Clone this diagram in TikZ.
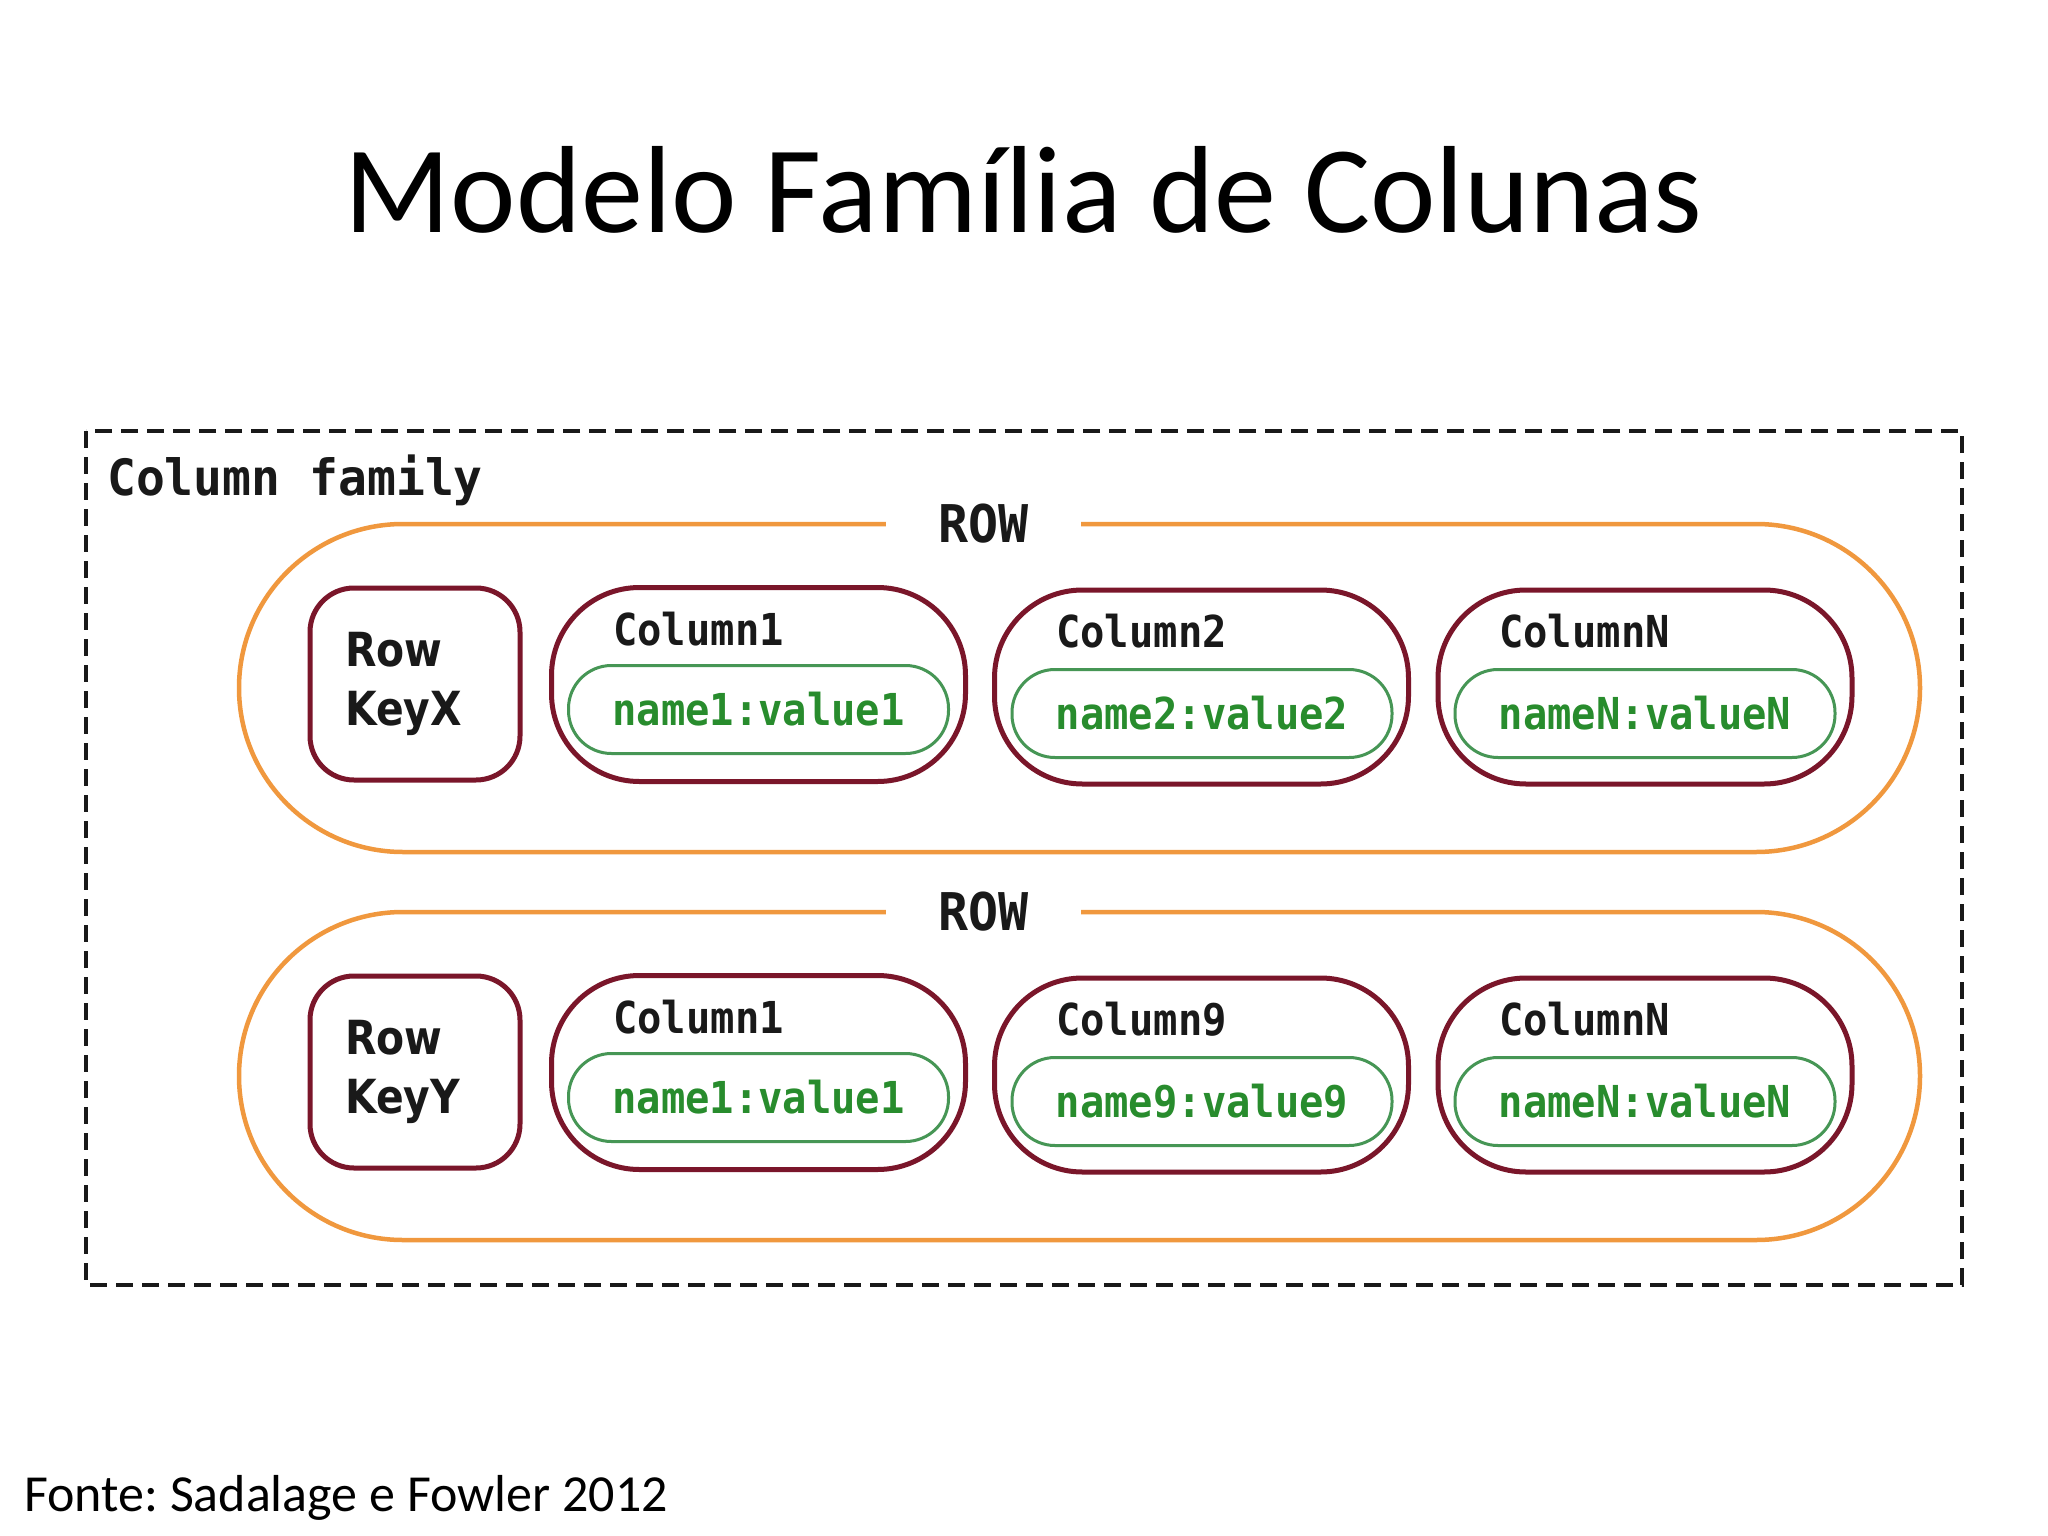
\documentclass[tikz,border=0pt]{standalone}
\usepackage{fontspec}
\setmainfont{Carlito}
\frenchspacing
\newfontfamily\cfmono[FakeStretch=0.96]{DejaVu Sans Mono}
\newfontfamily\colmono[FakeStretch=0.92]{DejaVu Sans Mono}
\newfontfamily\keysans[FakeStretch=0.87]{DejaVu Sans}
\definecolor{orangeR}{RGB}{240,152,62}
\definecolor{maroonR}{RGB}{122,22,42}
\definecolor{greenB}{RGB}{70,150,85}
\definecolor{greenT}{RGB}{40,140,45}
\definecolor{inkR}{RGB}{25,25,25}
\tikzset{
  ring/.style={draw=orangeR, line width=4.5, rounded corners=164, minimum width=1681, minimum height=328, inner sep=0},
  rowlbl/.style={fill=white, inner xsep=52, inner ysep=4, text=inkR, font=\cfmono\bfseries\fontsize{52}{60}\selectfont},
  keybox/.style={draw=maroonR, line width=5, rounded corners=44, minimum width=210, minimum height=192},
  keylbl/.style={anchor=west, inner sep=0, align=left, text=inkR, font=\keysans\bfseries\fontsize{47}{59}\selectfont},
  colbox/.style={draw=maroonR, line width=5, rounded corners=88, minimum width=414, minimum height=194},
  collbl/.style={anchor=west, inner sep=0, text=inkR, font=\colmono\bfseries\fontsize{44}{50}\selectfont},
  kv/.style={draw=greenB, line width=3, rounded corners=43, minimum width=380, minimum height=88, text=greenT, font=\colmono\bfseries\fontsize{44}{50}\selectfont},
  fam/.style={draw=inkR, line width=4, dash pattern=on 17 off 9},
}
\begin{document}
\begin{tikzpicture}[x=1pt,y=-1pt]
\useasboundingbox (0,0) rectangle (2048,1536);
\fill[white] (0,0) rectangle (2048,1536);
% title
\node[anchor=base, inner sep=0, font=\fontsize{124}{140}\selectfont] (title) at (1024,232) {Modelo Família de Colunas};
% column family frame
\draw[fam] (86,431) rectangle (1962,1285);
\node[anchor=west, inner sep=0, text=inkR, font=\cfmono\bfseries\fontsize{50}{56}\selectfont] (famlbl) at (107,480) {Column family};
% row 1
\node[ring] (ring1) at (1079.5,688) {};
\node[rowlbl] (rl1) at (983.5,524) {ROW};
\node[keybox] (k1) at (415,684) {};
\node[keylbl] (k1l) at (345,684) {Row\\KeyX};
\node[colbox] (c11) at (758.5,684.5) {};
\node[collbl] (c11l) at (613,629) {Column1};
\node[kv] (g11) at (758.5,709.5) {name1:value1};
\node[colbox] (c12) at (1201.5,687) {};
\node[collbl] (c12l) at (1056,631) {Column2};
\node[kv] (g12) at (1202,713.5) {name2:value2};
\node[colbox] (c13) at (1645,687) {};
\node[collbl] (c13l) at (1499,631) {ColumnN};
\node[kv] (g13) at (1645,713.5) {nameN:valueN};
% row 2
\node[ring] (ring2) at (1079.5,1076) {};
\node[rowlbl] (rl2) at (983.5,912) {ROW};
\node[keybox] (k2) at (415,1072) {};
\node[keylbl] (k2l) at (345,1072) {Row\\KeyY};
\node[colbox] (c21) at (758.5,1072.5) {};
\node[collbl] (c21l) at (613,1017) {Column1};
\node[kv] (g21) at (758.5,1097.5) {name1:value1};
\node[colbox] (c22) at (1201.5,1075) {};
\node[collbl] (c22l) at (1056,1019) {Column9};
\node[kv] (g22) at (1202,1101.5) {name9:value9};
\node[colbox] (c23) at (1645,1075) {};
\node[collbl] (c23l) at (1499,1019) {ColumnN};
\node[kv] (g23) at (1645,1101.5) {nameN:valueN};
% source
\node[anchor=base west, inner sep=0, font=\fontsize{52}{60}\selectfont] (src) at (24,1511) {Fonte: Sadalage e Fowler 2012};
\end{tikzpicture}
\end{document}
